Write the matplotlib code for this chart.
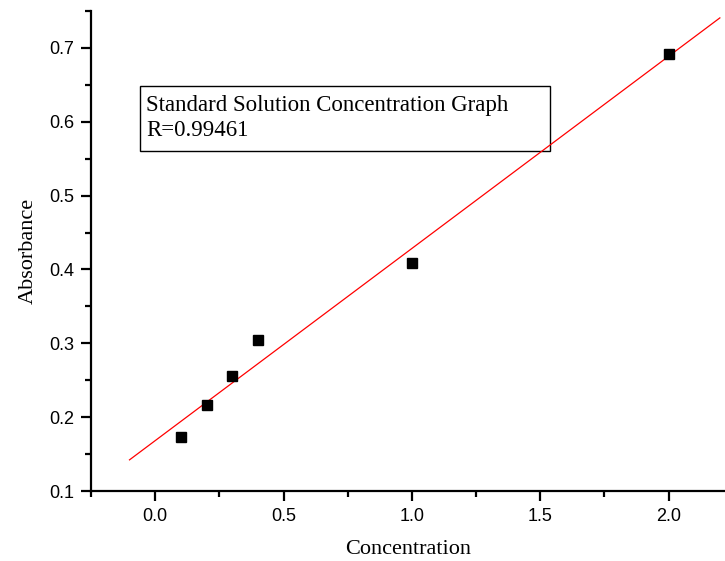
import numpy as np
import matplotlib
matplotlib.use("Agg")
import matplotlib.pyplot as plt
from matplotlib.ticker import MultipleLocator
from matplotlib.patches import Rectangle

concentration = [0.1, 0.2, 0.3, 0.4, 1.0, 2.0]
absorbance = [0.173, 0.216, 0.256, 0.304, 0.409, 0.692]
fit_range = [-0.1, 2.2]
title_text = "Standard Solution Concentration Graph"
r_text = "R=0.99461"

fig = plt.figure(figsize=(7.25, 5.61), dpi=100)
ax = fig.add_axes([91/725, 1-491/561, 634/725, 480/561])

slope, intercept = np.polyfit(concentration, absorbance, 1)
xf = np.array(fit_range)
ax.plot(xf, slope*xf + intercept, color="red", lw=0.9, zorder=2)
ax.plot(concentration, absorbance, ls="none", marker="s", ms=7, color="black", zorder=3)

ax.set_xlim(-0.25, 2.22)
ax.set_ylim(0.1, 0.75)
ax.xaxis.set_major_locator(MultipleLocator(0.5))
ax.xaxis.set_minor_locator(MultipleLocator(0.25))
ax.yaxis.set_major_locator(MultipleLocator(0.1))
ax.yaxis.set_minor_locator(MultipleLocator(0.05))
ax.xaxis.set_major_formatter(plt.FormatStrFormatter("%.1f"))
ax.yaxis.set_major_formatter(plt.FormatStrFormatter("%.1f"))

for s in ["top", "right"]:
    ax.spines[s].set_visible(False)
for s in ["left", "bottom"]:
    ax.spines[s].set_linewidth(1.6)

ax.tick_params(which="major", direction="out", length=7, width=1.6,
               labelsize=13, pad=5)
ax.tick_params(which="minor", direction="out", length=4.5, width=1.6)
for lab in ax.get_xticklabels() + ax.get_yticklabels():
    lab.set_fontfamily("Liberation Sans")

ax.set_xlabel("Concentration", fontfamily="Liberation Serif", fontsize=16, labelpad=11)
ax.set_ylabel("Absorbance", fontfamily="Liberation Serif", fontsize=16, labelpad=8)

ax.add_patch(Rectangle((0.0773, 0.708), 0.647, 0.136, transform=ax.transAxes,
                       fill=False, edgecolor="black", lw=1.0, clip_on=False))
ax.text(0.0868, (491-105)/480, title_text, transform=ax.transAxes,
        fontfamily="Liberation Serif", fontsize=16.5, va="center", ha="left")
ax.text(0.0868, (491-131)/480, r_text, transform=ax.transAxes,
        fontfamily="Liberation Serif", fontsize=16.5, va="center", ha="left")

fig.savefig("out.png", dpi=100)
